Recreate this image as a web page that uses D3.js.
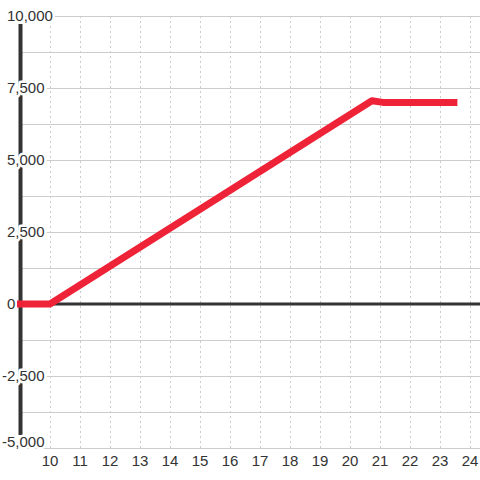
<!DOCTYPE html>
<html>
<head>
<meta charset="utf-8">
<script src="https://cdn.jsdelivr.net/npm/d3@7"></script>
<style>
  body { margin: 0; background: #fff; }
  text { font-family: "Liberation Sans", Arial, sans-serif; fill: #333; }
</style>
</head>
<body>
<div id="chart"></div>
<script>
// series (x, y)
const xValues = [8.9, 10, 20.73, 21.1, 23.58];
const yValues = [0, 0, 7060, 7000, 7000];

const xTicks = [10, 11, 12, 13, 14, 15, 16, 17, 18, 19, 20, 21, 22, 23, 24];
const yLabelTicks = [-5000, -2500, 0, 2500, 5000, 7500, 10000];
const yGridTicks = d3.range(-5000, 10001, 1250);

const width = 480, height = 480;

const x = d3.scaleLinear().domain([9, 24.3333]).range([20, 480]);
const y = d3.scaleLinear().domain([-5000, 10000]).range([448, 16]);

const svg = d3.select('#chart').append('svg')
  .attr('width', width)
  .attr('height', height);

// vertical dotted grid
svg.append('g').selectAll('line')
  .data(xTicks)
  .enter().append('line')
    .attr('x1', d => x(d) + 0.5).attr('x2', d => x(d) + 0.5)
    .attr('y1', y(10000)).attr('y2', y(-5000))
    .attr('stroke', '#ccc')
    .attr('stroke-dasharray', '2,3');

// horizontal grid
svg.append('g').selectAll('line')
  .data(yGridTicks)
  .enter().append('line')
    .attr('x1', 20).attr('x2', width)
    .attr('y1', d => y(d) + 0.5).attr('y2', d => y(d) + 0.5)
    .attr('stroke', '#ccc');

// y axis line
svg.append('line')
  .attr('x1', 20.5).attr('x2', 20.5)
  .attr('y1', 24).attr('y2', 435)
  .attr('stroke', '#333')
  .attr('stroke-width', 4);

// zero line
svg.append('line')
  .attr('x1', 20).attr('x2', width)
  .attr('y1', y(0)).attr('y2', y(0))
  .attr('stroke', '#333')
  .attr('stroke-width', 3);

// y labels with white halo behind (bottom one sits on its line)
const fmt = d3.format(',');
const yLab = svg.append('g').selectAll('g')
  .data(yLabelTicks)
  .enter().append('g')
    .attr('transform', d => `translate(${d < 0 ? 2 : 7},${y(d)})`);

const dyOf = d => d === -5000 ? '-0.05em' : '0.35em';

yLab.append('text')
  .attr('dy', dyOf)
  .attr('font-size', 15)
  .style('stroke', '#fff')
  .style('stroke-width', 5)
  .style('stroke-linejoin', 'round')
  .text(d => fmt(d).replace('−', '-'));

yLab.append('text')
  .attr('dy', dyOf)
  .attr('font-size', 15)
  .text(d => fmt(d).replace('−', '-'));

// x labels
svg.append('g').selectAll('text')
  .data(xTicks)
  .enter().append('text')
    .attr('x', d => x(d))
    .attr('y', 466)
    .attr('text-anchor', 'middle')
    .attr('font-size', 15)
    .text(d => d);

// series line
const pts = xValues.map((v, i) => [v, yValues[i]]);
const line = d3.line().x(d => x(d[0])).y(d => y(d[1]));

svg.append('path')
  .datum(pts)
  .attr('d', line)
  .attr('fill', 'none')
  .attr('stroke', '#ee2338')
  .attr('stroke-width', 7)
  .attr('stroke-linejoin', 'round');
</script>
</body>
</html>
